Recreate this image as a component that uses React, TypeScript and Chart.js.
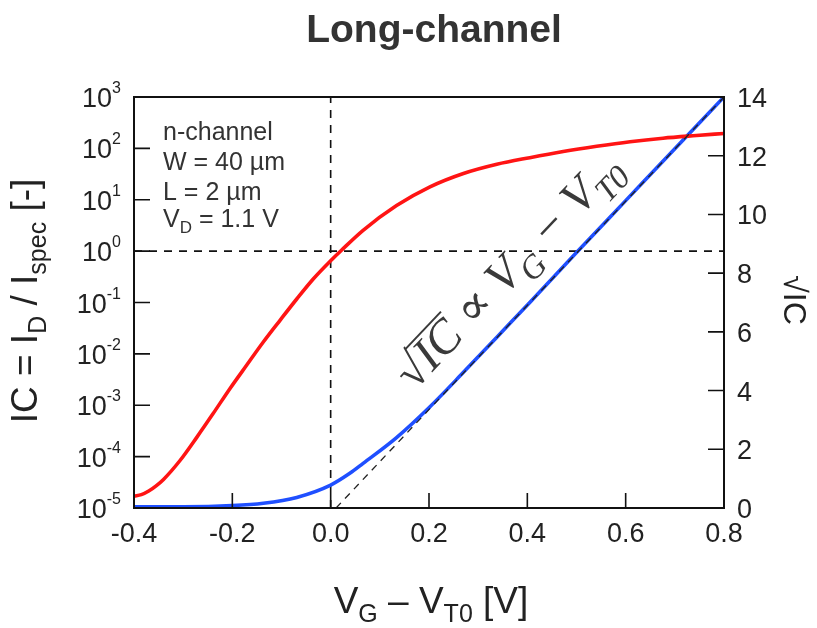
import React, { useEffect, useRef } from 'react';
import { Chart, registerables } from 'chart.js';
Chart.register(...registerables);

// IC (left log axis) vs VG - VT0
const redV = [-0.4, -0.385, -0.37, -0.355, -0.34, -0.306, -0.272, -0.239, -0.205, -0.171, -0.137, -0.103, -0.069, -0.035, 0.0, 0.022, 0.066, 0.134, 0.202, 0.27, 0.338, 0.405, 0.473, 0.541, 0.609, 0.676, 0.744, 0.8];
const redIC = [1.7e-5, 1.82e-5, 2.14e-5, 2.7e-5, 3.6e-5, 8.5e-5, 2.4e-4, 6.9e-4, 2.1e-3, 6.0e-3, 1.7e-2, 4.5e-2, 0.117, 0.29, 0.65, 1.04, 2.54, 7.7, 17.8, 32.4, 49, 66, 87, 110, 135, 158, 178, 195];
// sqrt(IC) (right linear axis)
const blueV = [-0.4, -0.3, -0.2, -0.137, -0.069, 0.0, 0.039, 0.066, 0.134, 0.202, 0.27, 0.338, 0.405, 0.5, 0.6, 0.7, 0.8];
const blueSqrtIC = [0.04, 0.04, 0.08, 0.16, 0.36, 0.78, 1.18, 1.52, 2.4, 3.45, 4.62, 5.82, 7.0, 8.7, 10.47, 12.24, 14.0];
// asymptote
const asymV = [0.011, 0.8];
const asymSqrtIC = [0, 14];

const xTicks = [-0.4, -0.2, 0, 0.2, 0.4, 0.6, 0.8];
const xTickLabels = ['-0.4', '-0.2', '0.0', '0.2', '0.4', '0.6', '0.8'];
const leftExps = [-5, -4, -3, -2, -1, 0, 1, 2, 3];
const rightTicks = [0, 2, 4, 6, 8, 10, 12, 14];
const infoLines = ['n-channel', 'W = 40 µm', 'L = 2 µm'];

const SANS = '"Liberation Sans", Arial, sans-serif';
const SERIF = '"Liberation Serif", "DejaVu Serif", serif';

type Part = { t: string; sub?: boolean; sup?: boolean };

function richWidth(ctx: CanvasRenderingContext2D, parts: Part[], size: number, family: string, style = '') {
  let w = 0;
  for (const p of parts) {
    const s = p.sub || p.sup ? Math.round(size * 0.68) : size;
    ctx.font = `${style}${s}px ${family}`;
    w += ctx.measureText(p.t).width;
  }
  return w;
}

function drawRich(ctx: CanvasRenderingContext2D, parts: Part[], x: number, y: number, size: number, family: string, style = '') {
  let cx = x;
  ctx.textBaseline = 'alphabetic';
  ctx.textAlign = 'left';
  for (const p of parts) {
    const s = p.sub || p.sup ? Math.round(size * 0.68) : size;
    ctx.font = `${style}${s}px ${family}`;
    const dy = p.sub ? size * 0.24 : p.sup ? -size * 0.4 : 0;
    ctx.fillText(p.t, cx, y + dy);
    cx += ctx.measureText(p.t).width;
  }
  return cx;
}

const decorPlugin = {
  id: 'decor',
  afterDraw(chart: any) {
    const { ctx, chartArea: a, scales } = chart;
    const xs = scales.x, yl = scales.y, yr = scales.y1;
    ctx.save();
    // frame
    ctx.strokeStyle = '#111';
    ctx.lineWidth = 2;
    ctx.strokeRect(a.left, a.top, a.right - a.left, a.bottom - a.top);
    // inward ticks
    ctx.lineWidth = 1.6;
    ctx.beginPath();
    xTicks.slice(1, -1).forEach((v) => {
      const px = xs.getPixelForValue(v);
      ctx.moveTo(px, a.bottom);
      ctx.lineTo(px, a.bottom - 15);
    });
    leftExps.slice(1, -1).forEach((e) => {
      const py = yl.getPixelForValue(Math.pow(10, e));
      ctx.moveTo(a.left, py);
      ctx.lineTo(a.left + 16, py);
    });
    rightTicks.slice(1, -1).forEach((v) => {
      const py = yr.getPixelForValue(v);
      ctx.moveTo(a.right, py);
      ctx.lineTo(a.right - 16, py);
    });
    ctx.stroke();

    ctx.fillStyle = '#222';
    // x tick labels
    ctx.font = `27px ${SANS}`;
    ctx.textAlign = 'center';
    ctx.textBaseline = 'alphabetic';
    xTicks.forEach((v, i) => {
      ctx.fillText(xTickLabels[i], xs.getPixelForValue(v), a.bottom + 34);
    });
    // right tick labels
    ctx.textAlign = 'left';
    rightTicks.forEach((v) => {
      ctx.fillText(String(v), a.right + 13, yr.getPixelForValue(v) + 10);
    });
    // left tick labels 10^e
    leftExps.forEach((e) => {
      const py = yl.getPixelForValue(Math.pow(10, e));
      ctx.font = `16px ${SANS}`;
      const ew = ctx.measureText(String(e)).width;
      ctx.font = `27px ${SANS}`;
      const bw = ctx.measureText('10').width;
      const right = 121;
      ctx.textAlign = 'left';
      ctx.fillText('10', right - ew - bw, py + 10);
      ctx.font = `16px ${SANS}`;
      ctx.fillText(String(e), right - ew, py - 4);
    });

    // title
    ctx.fillStyle = '#333';
    ctx.font = `bold 39px ${SANS}`;
    ctx.textAlign = 'center';
    ctx.fillText('Long-channel', 434, 42);

    // x axis title
    ctx.fillStyle = '#222';
    const xt: Part[] = [{ t: 'V' }, { t: 'G', sub: true }, { t: ' \u2013 V' }, { t: 'T0', sub: true }, { t: ' [V]' }];
    const xw = richWidth(ctx, xt, 37, SANS);
    drawRich(ctx, xt, 431 - xw / 2, 613, 37, SANS);

    // left axis title
    const lt: Part[] = [{ t: 'IC = I' }, { t: 'D', sub: true }, { t: ' / I' }, { t: 'spec', sub: true }, { t: ' [-]' }];
    const lw = richWidth(ctx, lt, 37, SANS);
    ctx.save();
    ctx.translate(37, 301);
    ctx.rotate(-Math.PI / 2);
    drawRich(ctx, lt, -lw / 2, 0, 37, SANS);
    ctx.restore();

    // right axis title  √IC
    ctx.save();
    ctx.translate(784, 300);
    ctx.rotate(Math.PI / 2);
    ctx.font = `32px ${SANS}`;
    ctx.textAlign = 'center';
    ctx.textBaseline = 'alphabetic';
    ctx.fillText('\u221AIC', 0, 0);
    ctx.restore();

    // info block
    ctx.fillStyle = '#333';
    ctx.font = `25px ${SANS}`;
    ctx.textAlign = 'left';
    infoLines.forEach((s, i) => ctx.fillText(s, 163, 140 + i * 30));
    drawRich(ctx, [{ t: 'V' }, { t: 'D', sub: true }, { t: ' = 1.1 V' }], 163, 227, 25, SANS);

    // rotated formula
    ctx.save();
    ctx.fillStyle = '#3a3a3a';
    ctx.strokeStyle = '#3a3a3a';
    ctx.translate(519, 281);
    ctx.rotate(-46.5 * Math.PI / 180);
    const fs = 48;
    const fparts: Part[] = [{ t: '\u221A' }, { t: 'IC' }, { t: ' \u221D V' }, { t: 'G', sub: true }, { t: ' \u2212 V' }, { t: 'T0', sub: true }];
    const fw = richWidth(ctx, fparts, fs, SERIF, 'italic ');
    const x0 = -fw / 2;
    ctx.font = `italic ${fs}px ${SERIF}`;
    const sw = ctx.measureText('\u221A').width;
    const icw = ctx.measureText('IC').width;
    drawRich(ctx, fparts, x0, 0, fs, SERIF, 'italic ');
    ctx.lineWidth = 2;
    ctx.beginPath();
    ctx.moveTo(x0 + sw - 2, -fs * 0.74);
    ctx.lineTo(x0 + sw + icw + 2, -fs * 0.74);
    ctx.stroke();
    ctx.restore();

    ctx.restore();
  },
};

export default function App() {
  const ref = useRef<HTMLCanvasElement>(null);
  useEffect(() => {
    document.body.style.margin = '0';
    const canvas = ref.current!;
    const pts = (xv: number[], yv: number[]) => xv.map((x, i) => ({ x, y: yv[i] }));
    const chart = new Chart(canvas, {
      type: 'line',
      data: {
        datasets: [
          {
            label: 'asymptote',
            data: pts(asymV, asymSqrtIC),
            yAxisID: 'y1',
            borderColor: '#222',
            borderWidth: 1.3,
            borderDash: [7, 6],
            pointRadius: 0,
            order: 0,
          },
          {
            label: 'IC',
            data: pts(redV, redIC),
            yAxisID: 'y',
            borderColor: '#ff1414',
            borderWidth: 3.6,
            pointRadius: 0,
            cubicInterpolationMode: 'monotone',
            order: 1,
          },
          {
            label: 'sqrt IC',
            data: pts(blueV, blueSqrtIC),
            yAxisID: 'y1',
            borderColor: '#1f4fff',
            borderWidth: 3.6,
            pointRadius: 0,
            cubicInterpolationMode: 'monotone',
            order: 2,
          },
          {
            label: 'vref',
            data: [{ x: 0, y: 1e-5 }, { x: 0, y: 1e3 }],
            yAxisID: 'y',
            borderColor: '#111',
            borderWidth: 1.6,
            borderDash: [8, 7],
            pointRadius: 0,
            order: 3,
          },
          {
            label: 'href',
            data: [{ x: -0.4, y: 1 }, { x: 0.8, y: 1 }],
            yAxisID: 'y',
            borderColor: '#111',
            borderWidth: 1.6,
            borderDash: [8, 7],
            pointRadius: 0,
            order: 3,
          },
        ],
      },
      options: {
        responsive: false,
        animation: false,
        layout: { padding: { left: 134, right: 93, top: 97, bottom: 120 } },
        plugins: { legend: { display: false }, tooltip: { enabled: false }, title: { display: false } },
        scales: {
          x: { type: 'linear', min: -0.4, max: 0.8, display: false },
          y: { type: 'logarithmic', min: 1e-5, max: 1e3, display: false },
          y1: { type: 'linear', min: 0, max: 14, display: false, position: 'right' },
        },
      },
      plugins: [decorPlugin],
    } as any);
    return () => chart.destroy();
  }, []);
  return (
    <div style={{ width: 817, height: 628, background: '#fff' }}>
      <canvas ref={ref} width={817} height={628} style={{ display: 'block', width: 817, height: 628 }} />
    </div>
  );
}
